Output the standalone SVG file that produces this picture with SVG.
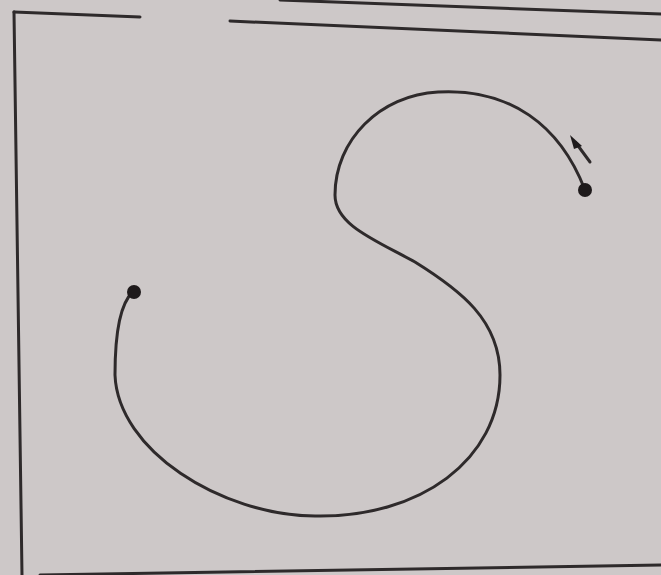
<svg xmlns="http://www.w3.org/2000/svg" width="661" height="575" viewBox="0 0 661 575">
<style>
.ln{fill:none;stroke:#2e2a2b;stroke-width:3;stroke-linecap:round}
.dot{fill:#1e1a1b}
</style>
<rect width="661" height="575" fill="#cdc8c8"/>
<g id="frame">
<path class="ln" d="M14,12 L140,17"/>
<path class="ln" d="M230,21 L661,40"/>
<path class="ln" d="M280,0 L661,14"/>
<path class="ln" d="M14,12 L22,575"/>
<path class="ln" d="M40,575 L661,565" stroke-width="2"/>
</g>
<g id="connectors">
<path class="ln" d="M133,292 C118,305 115,340 115,375 C118,450 220,515 315,516 C420,518 500,460 500,375 C500,320 460,290 415,262 C375,240 335,225 335,195 C335,140 380,95 438,92 C510,88 560,125 585,190"/>
<path class="ln" d="M576,143 L590,162" stroke-width="2"/>
<path d="M570,135 L582,146 L574,149 Z" fill="#1e1a1b"/>
</g>
<g id="start"><circle class="dot" cx="134" cy="292" r="7"/></g>
<g id="end"><circle class="dot" cx="585" cy="190" r="7"/></g>
</svg>
